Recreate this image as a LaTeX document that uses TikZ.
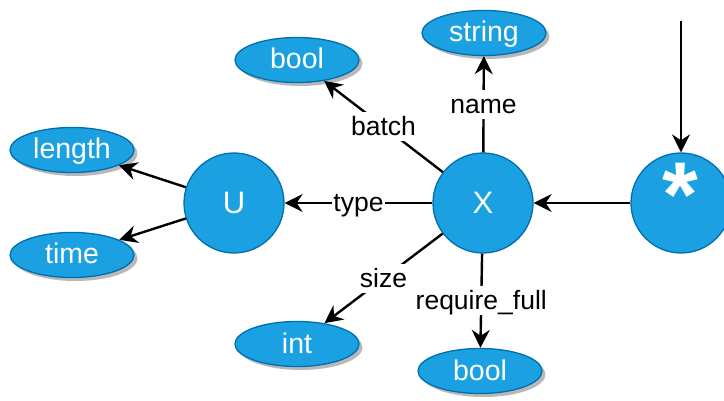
\documentclass[tikz,border=0pt]{standalone}
\usepackage{fontspec}
\setmainfont{Liberation Sans}
\usetikzlibrary{arrows.meta,shapes.geometric,shadows}
\definecolor{nodefill}{HTML}{1BA1E2}
\definecolor{nodeline}{HTML}{006EAF}
\definecolor{shadowgray}{HTML}{B8B8B8}
\tikzset{
  typenode/.style={ellipse, draw=nodeline, fill=nodefill, line width=1.3pt,
    minimum width=124pt, minimum height=45pt, inner sep=0pt, text=white,
    font=\fontsize{28.5}{30}\selectfont, text height=23pt, text depth=5pt,
    drop shadow={shadow xshift=3.5pt, shadow yshift=-3.5pt, fill=shadowgray, opacity=1}},
  objnode/.style={circle, draw=nodeline, fill=nodefill, line width=1.3pt,
    minimum size=100pt, inner sep=0pt, text=white,
    font=\fontsize{31}{33}\selectfont},
  arr/.style={draw=black, line width=2.4pt,
    -{Stealth[length=18pt,width=18pt,inset=6pt]}},
  lbl/.style={fill=white, inner sep=1pt, text=black,
    font=\fontsize{26.5}{28}\selectfont, text height=22.5pt, text depth=4.5pt}
}
\begin{document}
\begin{tikzpicture}[x=1pt,y=-1pt]
  \useasboundingbox (0,0) rectangle (724,401);

  % object nodes
  \node[objnode] (star) at (681,203) {};
  \node[text=white, font=\bfseries\fontsize{92}{92}\selectfont, inner sep=0pt]
    (starmark) at (680,195) {*};
  \node[objnode] (X) at (483,203) {X};
  \node[objnode] (U) at (234,203) {U};

  % type nodes
  \node[typenode] (string) at (484,33) {string};
  \node[typenode] (boolA) at (297,60) {bool};
  \node[typenode] (length) at (72,150) {length};
  \node[typenode] (time) at (72,255) {time};
  \node[typenode] (int) at (297,344) {int};
  \node[typenode] (boolB) at (480,371) {bool};

  \coordinate (entry) at (681,21);

  % connectors
  \draw[arr] (entry) -- (star);
  \draw[arr] (star) -- (X);
  \draw[arr] (X) -- node[lbl] {type} (U);
  \draw[arr] (X) -- node[lbl] {name} (string);
  \draw[arr] (X) -- node[lbl] {batch} (boolA);
  \draw[arr] (X) -- node[lbl] {size} (int);
  \draw[arr] (X) -- node[lbl] {require\_full} (boolB);
  \draw[arr] (U) -- (length);
  \draw[arr] (U) -- (time);
\end{tikzpicture}
\end{document}
